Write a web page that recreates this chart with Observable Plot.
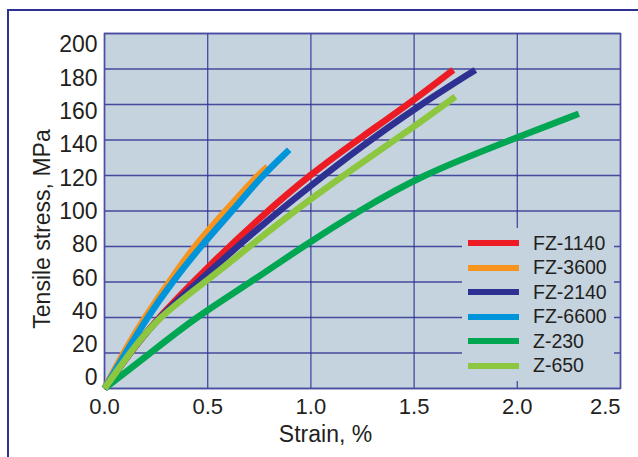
<!DOCTYPE html>
<html>
<head>
<meta charset="utf-8">
<script src="https://cdn.jsdelivr.net/npm/d3@7"></script>
<script src="https://cdn.jsdelivr.net/npm/@observablehq/plot@0.6"></script>
<style>
  html, body { margin: 0; padding: 0; background: #ffffff; }
  #wrap { position: relative; width: 638px; height: 457px; overflow: hidden; background: #ffffff;
          font-family: "Liberation Sans", Arial, Helvetica, sans-serif; color: #231f20; }
  #border { position: absolute; left: 7px; top: 9px; width: 700px; height: 520px; border: 2px solid #2e3192; box-sizing: border-box; }
  #chart { position: absolute; left: 0; top: 0; }
  #legend { position: absolute; left: 462px; top: 228px; width: 152px; height: 153px; background: #c5d3df;
            box-sizing: border-box; padding-top: 3px; }
  .row { height: 24.5px; display: flex; align-items: center; }
  .sw { margin-left: 6px; width: 51px; height: 6px; }
  .lab { margin-left: 14px; font-size: 19.5px; line-height: 1; }
</style>
</head>
<body>
<div id="wrap">
  <div id="border"></div>
  <div id="chart"></div>
  <div id="legend"></div>
</div>
<script>
// ---- data ----
const seriesNames = ["FZ-1140", "FZ-3600", "FZ-2140", "FZ-6600", "Z-230", "Z-650"];
const colors = ["#ed1c24", "#f7941d", "#2e3192", "#0095da", "#00a651", "#8dc63f"];

const strainFZ1140 = [0, 0.122, 0.26, 0.5, 0.75, 1.0, 1.25, 1.5, 1.69];
const stressFZ1140 = [0, 20, 40, 68.5, 96, 121, 142, 162.5, 179.5];

const strainFZ3600 = [0, 0.09, 0.194, 0.312, 0.433, 0.586, 0.74, 0.79];
const stressFZ3600 = [0, 20, 40, 60, 80, 100, 120, 125];

const strainFZ2140 = [0, 0.122, 0.26, 0.5, 0.75, 1.0, 1.25, 1.5, 1.797];
const stressFZ2140 = [0, 20, 40, 65, 91, 114.4, 136.8, 157.6, 179.5];

const strainFZ6600 = [0, 0.102, 0.207, 0.328, 0.465, 0.619, 0.764, 0.895];
const stressFZ6600 = [0, 20, 40, 60, 80, 100, 120, 134.5];

const strainZ230 = [0, 0.223, 0.44, 0.71, 0.96, 1.232, 1.531, 1.967, 2.298];
const stressZ230 = [0, 20, 40, 60, 80, 100, 120, 140, 154.8];

const strainZ650 = [0, 0.122, 0.258, 0.5, 0.75, 1.0, 1.25, 1.5, 1.7];
const stressZ650 = [0, 20, 40, 61, 84.5, 107, 127.5, 147.5, 164.5];

const xTicks = [0, 0.5, 1.0, 1.5, 2.0, 2.5];
const yTicks = [0, 20, 40, 60, 80, 100, 120, 140, 160, 180, 200];
const xTitle = "Strain, %";
const yTitle = "Tensile stress, MPa";

// ---- build table ----
const strains = [strainFZ1140, strainFZ3600, strainFZ2140, strainFZ6600, strainZ230, strainZ650];
const stresses = [stressFZ1140, stressFZ3600, stressFZ2140, stressFZ6600, stressZ230, stressZ650];
const rows = [];
seriesNames.forEach((name, i) => {
  strains[i].forEach((s, j) => rows.push({name, strain: s, stress: stresses[i][j]}));
});

const bg = "#c5d3df";
const gridColor = "#2e3192";
const textColor = "#231f20";
const font = "Liberation Sans, Arial, Helvetica, sans-serif";

const chart = Plot.plot({
  width: 638,
  height: 457,
  marginLeft: 104,
  marginRight: 18,
  marginTop: 33,
  marginBottom: 69,
  style: {background: "transparent", fontFamily: font, color: textColor, overflow: "visible"},
  x: {domain: [0, 2.5], axis: null},
  y: {domain: [0, 200], axis: null},
  color: {domain: seriesNames, range: colors},
  marks: [
    Plot.frame({fill: bg}),
    Plot.gridX(xTicks, {stroke: gridColor, strokeOpacity: 0.85, strokeWidth: 1.3}),
    Plot.gridY(yTicks, {stroke: gridColor, strokeOpacity: 0.85, strokeWidth: 1.3}),
    Plot.frame({stroke: "#4a4da3", strokeWidth: 1.5}),
    Plot.line(rows, {x: "strain", y: "stress", z: "name", stroke: "name", strokeWidth: 6.5,
                     curve: "basis", strokeLinecap: "butt", strokeLinejoin: "round"}),
    Plot.axisX(xTicks.filter(d => d < 2.5), {tickSize: 0, tickPadding: 10, fontSize: 22, fill: textColor,
                     tickFormat: d => d.toFixed(1), label: null}),
    Plot.axisX(xTicks.filter(d => d >= 2.5), {tickSize: 0, tickPadding: 10, fontSize: 22, fill: textColor,
                     textAnchor: "end", tickFormat: d => d.toFixed(1), label: null}),
    Plot.text(yTicks, {y: v => 5.9 + 0.938 * v, text: d => String(d), frameAnchor: "left",
                       textAnchor: "end", lineAnchor: "middle", dx: -7, fontSize: 23, fill: textColor}),
    Plot.text([xTitle], {frameAnchor: "bottom", text: d => d, textAnchor: "middle", lineAnchor: "middle",
                         dx: -37, dy: 46, fontSize: 23, fill: textColor}),
    Plot.text([yTitle], {frameAnchor: "left", text: d => d, rotate: -90, textAnchor: "middle", lineAnchor: "middle",
                         dx: -61.5, dy: 18, fontSize: 23, fill: textColor})
  ]
});
document.getElementById("chart").appendChild(chart);

// ---- legend ----
const legend = document.getElementById("legend");
seriesNames.forEach((name, i) => {
  const row = document.createElement("div");
  row.className = "row";
  const sw = document.createElement("div");
  sw.className = "sw";
  sw.style.background = colors[i];
  const lab = document.createElement("div");
  lab.className = "lab";
  lab.textContent = name;
  row.appendChild(sw);
  row.appendChild(lab);
  legend.appendChild(row);
});
</script>
</body>
</html>
